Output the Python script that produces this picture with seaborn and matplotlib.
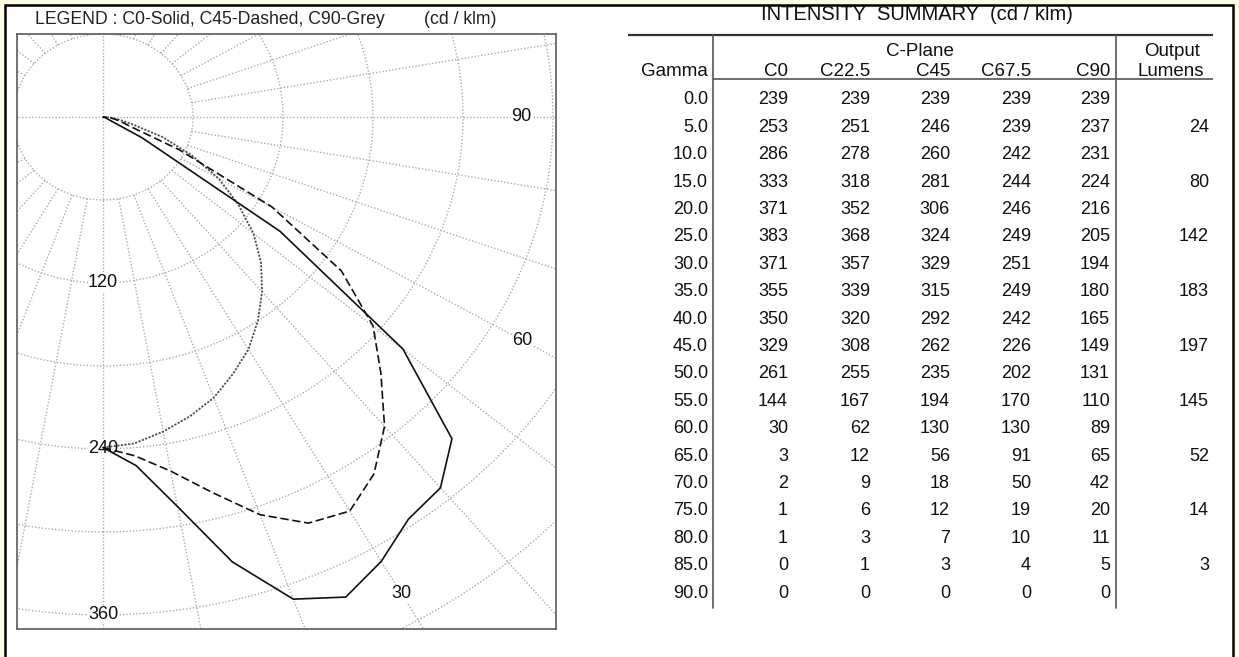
import numpy as np
import pandas as pd
import matplotlib
matplotlib.use("Agg")
import matplotlib.pyplot as plt
from matplotlib.patches import Rectangle
import seaborn as sns

# ---------------- data ----------------
gamma = [0, 5, 10, 15, 20, 25, 30, 35, 40, 45, 50, 55, 60, 65, 70, 75, 80, 85, 90]
c0 = [239, 253, 286, 333, 371, 383, 371, 355, 350, 329, 261, 144, 30, 3, 2, 1, 1, 0, 0]
c22_5 = [239, 251, 278, 318, 352, 368, 357, 339, 320, 308, 255, 167, 62, 12, 9, 6, 3, 1, 0]
c45 = [239, 246, 260, 281, 306, 324, 329, 315, 292, 262, 235, 194, 130, 56, 18, 12, 7, 3, 0]
c67_5 = [239, 239, 242, 244, 246, 249, 251, 249, 242, 226, 202, 170, 130, 91, 50, 19, 10, 4, 0]
c90 = [239, 237, 231, 224, 216, 205, 194, 180, 165, 149, 131, 110, 89, 65, 42, 20, 11, 5, 0]
lumen_gamma = [5, 15, 25, 35, 45, 55, 65, 75, 85]
lumens = [24, 80, 142, 183, 197, 145, 52, 14, 3]
col_labels = ["C0", "C22.5", "C45", "C67.5", "C90"]
ring_labels = [120, 240, 360]
angle_labels = [90, 60, 30]

sns.set_theme(style="white")
plt.rcParams["font.family"] = ["Liberation Sans", "DejaVu Sans"]

W, H = 1239, 657
fig = plt.figure(figsize=(W / 100, H / 100), dpi=100, facecolor="#FFFFE3")

# background / frame axes in pixel coordinates
bg = fig.add_axes([0, 0, 1, 1])
bg.set_xlim(0, W)
bg.set_ylim(H, 0)
bg.axis("off")
bg.add_patch(Rectangle((5, 4.5), 1227.5, 700, facecolor="white",
                       edgecolor="black", lw=1.8, zorder=0))

# ---------------- polar diagram ----------------
L, R, T, B = 16.6, 556, 34, 629
ax = fig.add_axes([L / W, 1 - B / H, (R - L) / W, (B - T) / H])
ax.set_facecolor("white")
for s in ax.spines.values():
    s.set_color("#5a5a5a")
    s.set_linewidth(1.2)

grid_kw = dict(color="#ababab", lw=1.0, linestyle=(0, (1, 1.4)), zorder=1)
th = np.linspace(0, 2 * np.pi, 721)
for r in range(60, 601, 60):
    ax.plot(r * np.sin(th), -r * np.cos(th), **grid_kw)
for a in range(0, 360, 10):
    r0 = 0 if a % 90 == 0 else 60
    t = np.deg2rad(a)
    ax.plot([r0 * np.sin(t), 700 * np.sin(t)], [-r0 * np.cos(t), -700 * np.cos(t)], **grid_kw)

lab_kw = dict(ha="center", va="center", fontsize=13, color="#111111", zorder=3,
              bbox=dict(facecolor="white", edgecolor="none", pad=0.3))
for v in ring_labels:
    ax.text(0, -v, str(v), **lab_kw)
ang_pos = {90: 279, 60: 323, 30: 398}
for a in angle_labels:
    t = np.deg2rad(a)
    ax.text(ang_pos[a] * np.sin(t), -ang_pos[a] * np.cos(t), str(a), **lab_kw)

g = np.deg2rad(np.array(gamma, dtype=float))
def curve(vals, name):
    v = np.array(vals, dtype=float)
    return pd.DataFrame({"x": v * np.sin(g), "y": -v * np.cos(g), "plane": name})

sns.lineplot(data=curve(c90, "C90"), x="x", y="y", sort=False, estimator=None, ax=ax,
             color="#505050", lw=1.3, linestyle=(0, (1.2, 0.8)), zorder=4)
sns.lineplot(data=curve(c45, "C45"), x="x", y="y", sort=False, estimator=None, ax=ax,
             color="#111111", lw=1.2, linestyle=(0, (5, 2.2)), zorder=5)
sns.lineplot(data=curve(c0, "C0"), x="x", y="y", sort=False, estimator=None, ax=ax,
             color="#111111", lw=1.2, zorder=6)
ax.set_xlabel("")
ax.set_ylabel("")
ax.set_xticks([])
ax.set_yticks([])
ax.set_xlim(-57.6, 302)
ax.set_ylim(-370.2, 60)

fig.text(35 / W, 1 - 20 / H, "LEGEND : C0-Solid, C45-Dashed, C90-Grey",
         ha="left", va="center", fontsize=12.7, color="#222222")
fig.text(424 / W, 1 - 20 / H, "(cd / klm)", ha="left", va="center",
         fontsize=12.7, color="#222222")

# ---------------- intensity table ----------------
txt = dict(fontsize=13, color="#111111", va="center")
hdr = dict(fontsize=13.5, color="#111111", va="center")
bg.text(917, 15, "INTENSITY  SUMMARY  (cd / klm)", ha="center", fontsize=14.5,
        color="#111111", va="center")
bg.plot([628, 1213], [35, 35], color="#333333", lw=1.6, solid_capstyle="butt")
bg.plot([713, 1213], [79, 79], color="#555555", lw=1.2, solid_capstyle="butt")
bg.plot([713, 713], [35, 608], color="#555555", lw=1.2)
bg.plot([1116, 1116], [35, 608], color="#555555", lw=1.2)

bg.text(920, 52, "C-Plane", ha="center", **hdr)
bg.text(1200, 52, "Output", ha="right", **hdr)
bg.text(708, 71, "Gamma", ha="right", **hdr)
bg.text(1204, 71, "Lumens", ha="right", **hdr)
col_x = [788, 870, 950, 1031, 1110]
for cx, lab in zip(col_x, col_labels):
    bg.text(cx, 71, lab, ha="right", **hdr)

row_y0, row_dy = 100, 27.39
for i, gm in enumerate(gamma):
    y = row_y0 + i * row_dy
    bg.text(708, y, f"{gm:.1f}", ha="right", **txt)
    for cx, col in zip(col_x, [c0, c22_5, c45, c67_5, c90]):
        bg.text(cx, y, str(col[i]), ha="right", **txt)
for gm, lm in zip(lumen_gamma, lumens):
    y = row_y0 + gamma.index(gm) * row_dy
    bg.text(1209, y, str(lm), ha="right", **txt)

fig.savefig("out.png", dpi=100, facecolor=fig.get_facecolor())
